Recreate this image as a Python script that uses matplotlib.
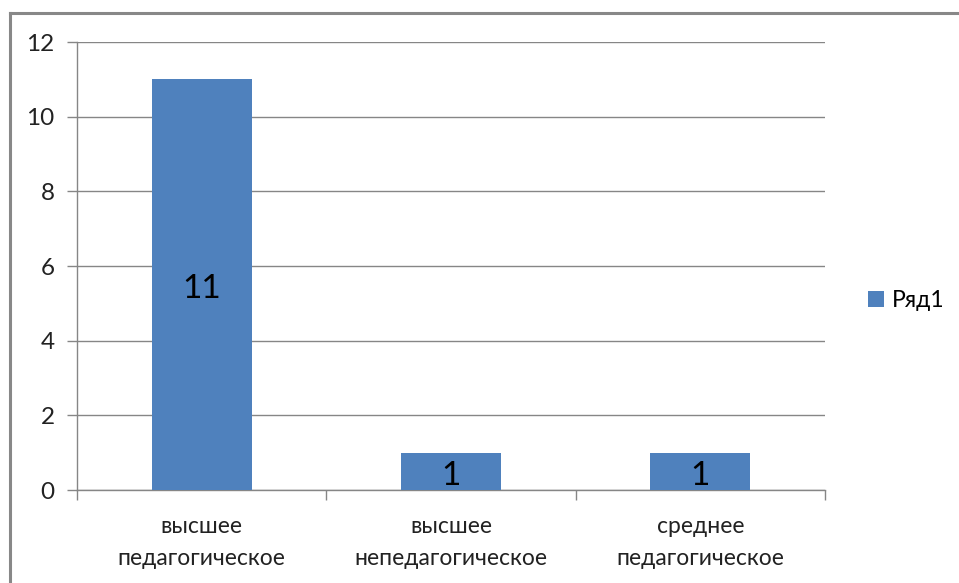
import matplotlib
matplotlib.use('Agg')
import matplotlib.pyplot as plt
import numpy as np

# ---[DATA]---
categories = ['высшее\nпедагогическое', 'высшее\nнепедагогическое', 'среднее\nпедагогическое']
values = [11, 1, 1]
series_name = 'Ряд1'
y_ticks = [0, 2, 4, 6, 8, 10, 12]
# ------------

bar_color = '#4F81BD'
grid_color = '#868686'

plt.rcParams['font.family'] = ['Lato', 'DejaVu Sans']

fig = plt.figure(figsize=(9.59, 5.83), dpi=100)
ax = fig.add_axes([0.0803, 0.1595, 0.78, 0.7684])

x = np.arange(len(categories))
bars = ax.bar(x, values, width=0.4, color=bar_color, label=series_name, zorder=3)

for b, v in zip(bars, values):
    # label sits a touch below the bar's middle, like the original
    ax.annotate(str(v), (b.get_x() + b.get_width() / 2, v / 2), xytext=(0, -3),
                textcoords='offset points', ha='center', va='center',
                fontsize=24, color='black', zorder=4)

ax.set_xlim(-0.5, len(categories) - 0.5)
ax.set_ylim(0, 12)
ax.set_yticks(y_ticks)
ax.yaxis.grid(True, color=grid_color, linewidth=1)
ax.set_axisbelow(True)

ax.set_xticks(x)
ax.set_xticklabels(categories, fontsize=16.5, color='#222222', linespacing=1.6)
ax.set_xticks(np.arange(len(categories) + 1) - 0.5, minor=True)
ax.tick_params(axis='x', which='major', length=0, pad=19)
ax.tick_params(axis='x', which='minor', length=7, color=grid_color, width=1)
ax.tick_params(axis='y', length=7, color=grid_color, width=1, labelsize=17.5,
               labelcolor='#222222', pad=9)

for side in ['top', 'right']:
    ax.spines[side].set_visible(False)
for side in ['left', 'bottom']:
    ax.spines[side].set_color(grid_color)
    ax.spines[side].set_linewidth(1)

fig.legend(handles=[bars], labels=[series_name], loc='center left',
           bbox_to_anchor=(0.905, 0.485), frameon=False, fontsize=16.5,
           handlelength=0.7, handleheight=0.7, handletextpad=0.35,
           borderaxespad=0, borderpad=0)

# outer chart frame (top and left edges visible)
fig.add_artist(plt.Line2D([9.5 / 959, 1.0], [1 - 12.5 / 583, 1 - 12.5 / 583],
                          color='#888888', linewidth=2.2, transform=fig.transFigure))
fig.add_artist(plt.Line2D([9.5 / 959, 9.5 / 959], [0.0, 1 - 12.5 / 583],
                          color='#888888', linewidth=2.2, transform=fig.transFigure))

fig.savefig('out.png', dpi=100)
